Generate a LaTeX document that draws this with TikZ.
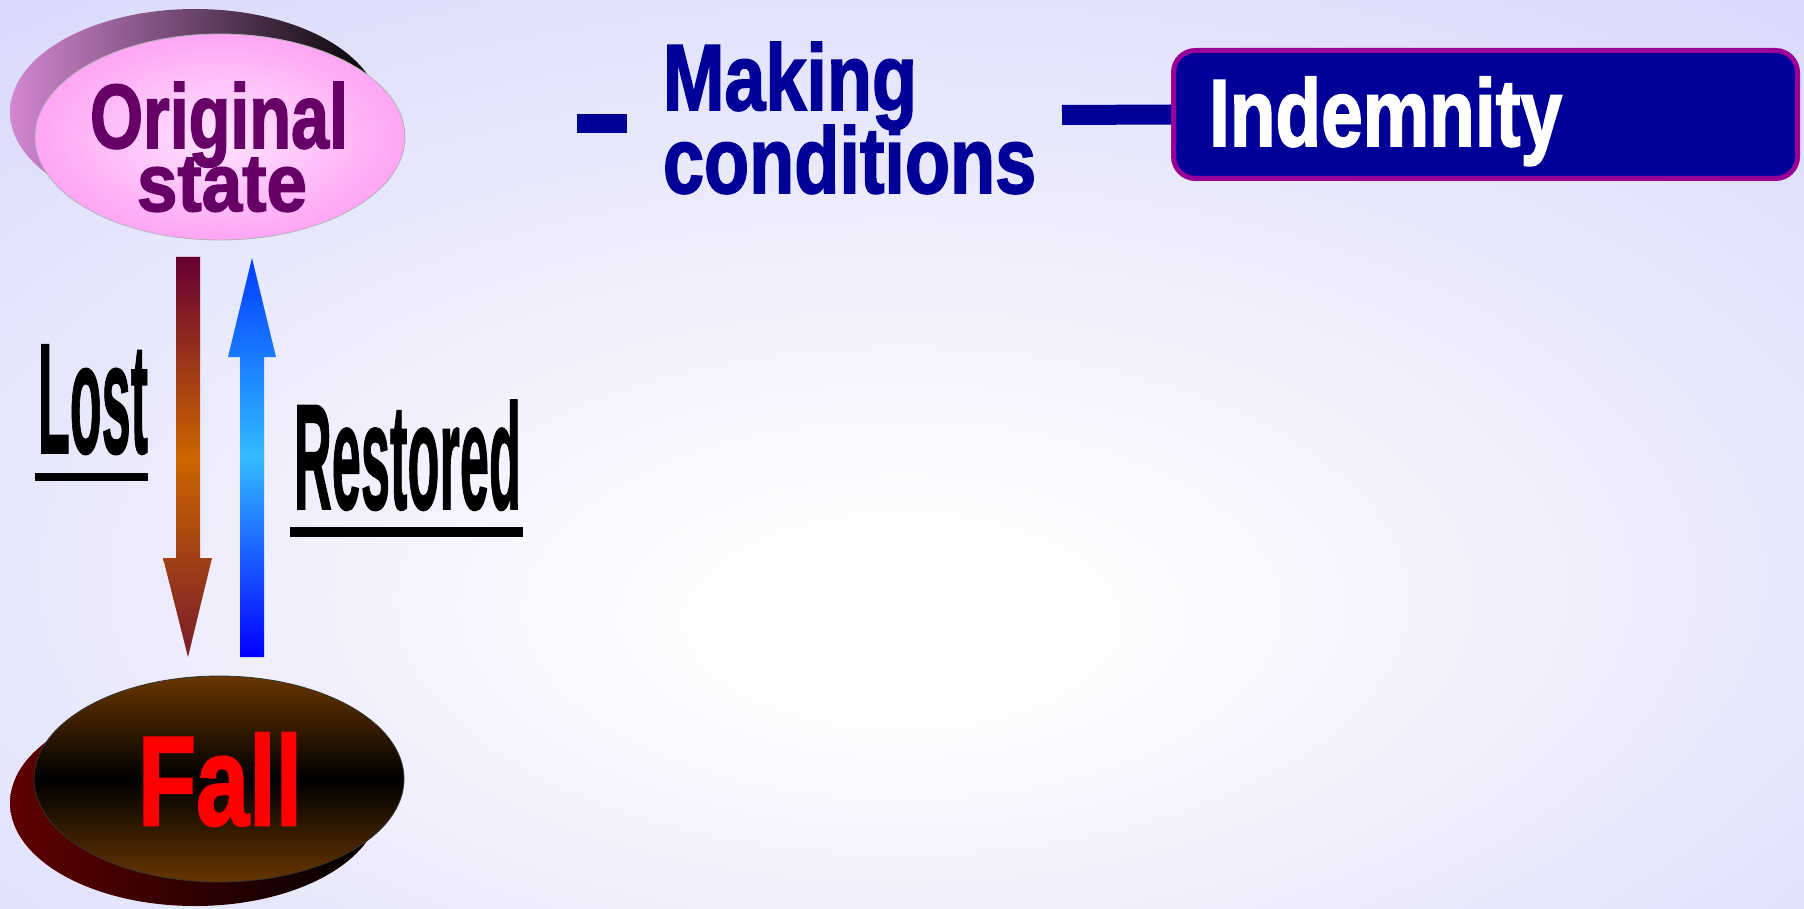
\documentclass[tikz,border=0pt]{standalone}
\usepackage{fontspec}
\setmainfont{Liberation Sans}
\newfontfamily\heavyfont[BoldFeatures={FakeBold=2}]{Liberation Sans}
\newfontfamily\semiheavyfont[BoldFeatures={FakeBold=1.2}]{Liberation Sans}
\usetikzlibrary{shapes.geometric}
\definecolor{origtxt}{RGB}{102,0,102}
\definecolor{navy}{RGB}{0,0,153}
\definecolor{plum}{RGB}{153,0,153}
\definecolor{pinkin}{RGB}{255,228,255}
\definecolor{pinkout}{RGB}{255,165,245}
\definecolor{mauve}{RGB}{210,135,210}
\definecolor{brownc}{RGB}{104,54,0}
\definecolor{darkred}{RGB}{95,0,0}
\definecolor{maroonc}{RGB}{102,0,51}
\definecolor{orangec}{RGB}{204,102,0}
\definecolor{maroonb}{RGB}{120,26,42}
\definecolor{bluec}{RGB}{0,0,255}
\definecolor{bluet}{RGB}{0,60,255}
\definecolor{cyanc}{RGB}{51,187,255}
\pgfdeclareradialshading{bgshade}{\pgfpoint{0bp}{-10bp}}{rgb(0bp)=(1,1,1);rgb(4bp)=(1,1,1);rgb(22bp)=(0.92,0.92,0.99);rgb(44bp)=(0.83,0.83,0.98);rgb(72bp)=(0.78,0.78,0.97)}
\newcommand\fitword[3]{\resizebox{#1pt}{#2pt}{\semiheavyfont\bfseries #3}}
\newcommand\fitheavy[3]{\resizebox{#1pt}{#2pt}{\heavyfont\bfseries #3}}
\begin{document}
\begin{tikzpicture}[x=1pt,y=-1pt,
  word/.style={anchor=base west,inner sep=0pt,outer sep=0pt},
  disc/.style={ellipse,minimum width=370pt,minimum height=206pt,inner sep=0pt},
  bar/.style={navy,line width=20pt}]
\useasboundingbox (0,0) rectangle (1804,909);
\shade[shading=bgshade] (0,0) rectangle (1804,909);

% Original state disc
\node[disc, left color=mauve, right color=black] (origback) at (195,112) {};
\node[disc, inner color=pinkin, outer color=pinkout, draw=gray!60, line width=0.8pt] (orig) at (220,137) {};
\node[word, origtxt] (origt1) at (90,148) {\fitheavy{258}{66}{Original}};
\node[word, origtxt] (origt2) at (137,211) {\fitheavy{170}{53}{state}};

% Fall disc
\node[disc, left color=darkred, right color=black] (fallback) at (195,803) {};
\node[disc, top color=brownc, bottom color=brownc, middle color=black, draw=black!80, line width=0.8pt] (fall) at (219,779) {};
\node[word, red] (fallt) at (138,825) {\fitheavy{164}{92}{Fall}};

% Lost arrow
\path[top color=maroonc, bottom color=maroonb, middle color=orangec]
  (176,257) -- (200,257) -- (200,558) -- (212,558) -- (188,657) -- (163,558) -- (176,558) -- cycle;
% Restored arrow
\path[top color=bluet, bottom color=bluec, middle color=cyanc]
  (240,657) -- (264,657) -- (264,357) -- (276,357) -- (252,258) -- (228,357) -- (240,357) -- cycle;

% Labels
\node[word, black] (lost) at (38,453) {\fitword{110}{108}{Lost}};
\draw[line width=8pt] (lost.base west |- 0,477) ++(-3,0) -- (148,477);
\node[word, black] (rest) at (294,509) {\fitword{227}{109}{Restored}};
\draw[line width=10pt] (rest.base west |- 0,532) ++(-4,0) -- (523,532);

% Making conditions
\coordinate (d1) at (577,123.5);
\coordinate (d2) at (627,123.5);
\draw[navy, line width=19pt] (d1) -- (d2);
\node[word, navy] (mk1) at (663,110) {\fitheavy{254}{68}{Making}};
\node[word, navy] (mk2) at (663,193) {\fitheavy{373}{68}{conditions}};

% Indemnity
\node[draw=plum, line width=5pt, fill=navy, rounded corners=22pt,
  minimum width=624pt, minimum height=128pt, inner sep=0pt] (indem) at (1485.5,114.5) {};
\node[word, white] (indt) at (1209,146) {\fitheavy{353}{69}{Indemnity}};
\coordinate (cend) at (1062,115);
\draw[bar] (cend) -- (indem.west);
\end{tikzpicture}
\end{document}
